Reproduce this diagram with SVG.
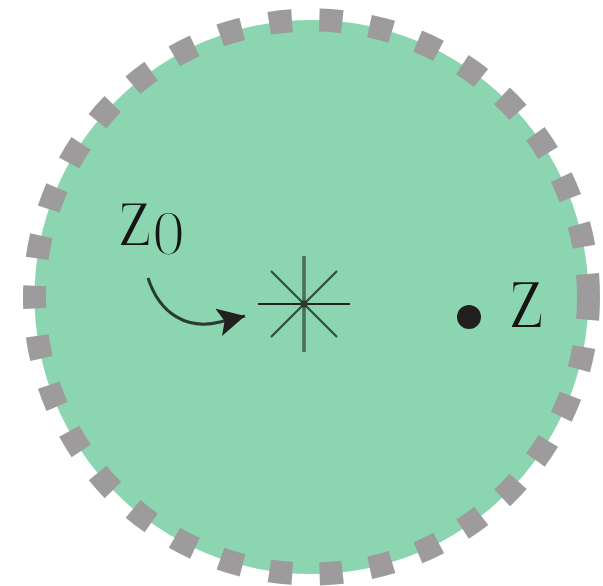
<svg xmlns="http://www.w3.org/2000/svg" width="603" height="586" viewBox="0 0 603 586">
  <style>
    .lbl { font-family: "Liberation Serif", "DejaVu Serif", serif; fill: #151515; stroke: #8bd6b0; stroke-width: 2.2; }
    .star { stroke-linecap: butt; fill: none; }
  </style>
  <defs>
    <marker id="arrowhead" markerUnits="userSpaceOnUse" markerWidth="40" markerHeight="40" refX="27" refY="14" orient="auto">
      <path d="M0,0 L27,14 L0,28 L6,14 Z" fill="#231f20"/>
    </marker>
  </defs>
  <rect width="603" height="586" fill="#ffffff"/>
  <g id="region">
    <path d="M588.5,297 A277,277 0 0 0 34.5,297 A277,277 0 0 0 588.5,297" fill="#8bd6b0" stroke="#9d9b9c" stroke-width="23" stroke-dasharray="23 27.5"/>
  </g>
  <g id="z0-point">
    <line class="star" x1="304" y1="256" x2="304" y2="352" stroke="#4c6b59" stroke-width="3.5"/>
    <line class="star" x1="258" y1="304" x2="350" y2="304" stroke="#232323" stroke-width="2.2"/>
    <line class="star" x1="271" y1="271" x2="337" y2="337" stroke="#2f4a3c" stroke-width="2.2"/>
    <line class="star" x1="337" y1="271" x2="271" y2="337" stroke="#2f4a3c" stroke-width="2.2"/>
    <circle cx="304" cy="304" r="3.5" fill="#2a3a31"/>
  </g>
  <g id="z0-label">
    <text class="lbl" transform="translate(118,246) scale(0.8,1)" font-size="96">z</text>
    <text class="lbl" x="152" y="255" font-size="66">0</text>
  </g>
  <g id="z-point">
    <circle cx="469" cy="317" r="12" fill="#231f20"/>
  </g>
  <g id="z-label">
    <text class="lbl" transform="translate(509,328) scale(0.78,1)" font-size="102">z</text>
  </g>
  <g id="connectors">
    <path d="M148,278 C160,315 188,330 220,322 L245,316" fill="none" stroke="#2b3a32" stroke-width="3" marker-end="url(#arrowhead)"/>
  </g>
</svg>
